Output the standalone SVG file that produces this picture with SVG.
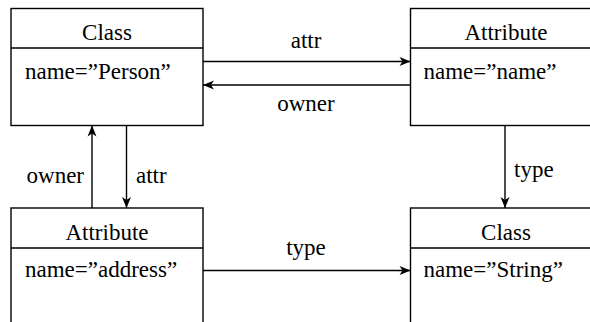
<svg xmlns="http://www.w3.org/2000/svg" width="590" height="322" viewBox="0 0 590 322">
  <style>
    .box { fill: #fff; stroke: #000; stroke-width: 1.4; }
    .sep { stroke: #000; stroke-width: 1.4; }
    .t { font-family: "Liberation Serif", "Times New Roman", serif; font-size: 23px; fill: #000; }
    .mid { text-anchor: middle; }
    .end { text-anchor: end; }
    .edge { fill: none; stroke: #000; stroke-width: 1.4; marker-end: url(#arrow); }
  </style>
  <defs>
    <marker id="arrow" markerUnits="userSpaceOnUse" markerWidth="14" markerHeight="12" viewBox="-12 -6 14 12" refX="0" refY="0" orient="auto">
      <path d="M0,0 L-11,-4.5 L-8,0 L-11,4.5 Z" fill="#000"/>
    </marker>
  </defs>
  <rect width="590" height="322" fill="#fff"/>

  <!-- object: Class Person -->
  <g id="class-person">
    <rect class="box" x="11" y="8.5" width="192" height="117"/>
    <line class="sep" x1="11" y1="48" x2="203" y2="48"/>
    <text class="t mid" x="107" y="40">Class</text>
    <text class="t" x="25" y="79">name=”Person”</text>
  </g>

  <!-- object: Attribute name -->
  <g id="attribute-name">
    <rect class="box" x="410.5" y="8.5" width="192" height="117"/>
    <line class="sep" x1="410.5" y1="48" x2="602.5" y2="48"/>
    <text class="t mid" x="506" y="40">Attribute</text>
    <text class="t" x="423.5" y="79">name=”name”</text>
  </g>

  <!-- object: Attribute address -->
  <g id="attribute-address">
    <rect class="box" x="11" y="208" width="192" height="130"/>
    <line class="sep" x1="11" y1="248" x2="203" y2="248"/>
    <text class="t mid" x="107" y="240">Attribute</text>
    <text class="t" x="25" y="277">name=”address”</text>
  </g>

  <!-- object: Class String -->
  <g id="class-string">
    <rect class="box" x="410.5" y="208" width="192" height="130"/>
    <line class="sep" x1="410.5" y1="248" x2="602.5" y2="248"/>
    <text class="t mid" x="506" y="240">Class</text>
    <text class="t" x="423.5" y="277">name=”String”</text>
  </g>

  <!-- links between objects -->
  <g id="connectors">
    <line class="edge" x1="203" y1="61.5" x2="410.5" y2="61.5"/>
    <text class="t mid" x="306" y="48">attr</text>
    <line class="edge" x1="410.5" y1="85" x2="203" y2="85"/>
    <text class="t mid" x="306" y="111">owner</text>

    <line class="edge" x1="92" y1="208" x2="92" y2="125.5"/>
    <text class="t end" x="84" y="183">owner</text>
    <line class="edge" x1="126.5" y1="125.5" x2="126.5" y2="208"/>
    <text class="t" x="136" y="183">attr</text>

    <line class="edge" x1="505" y1="125.5" x2="505" y2="208"/>
    <text class="t" x="514" y="177">type</text>

    <line class="edge" x1="203" y1="270.5" x2="410.5" y2="270.5"/>
    <text class="t mid" x="306" y="255">type</text>
  </g>
</svg>
